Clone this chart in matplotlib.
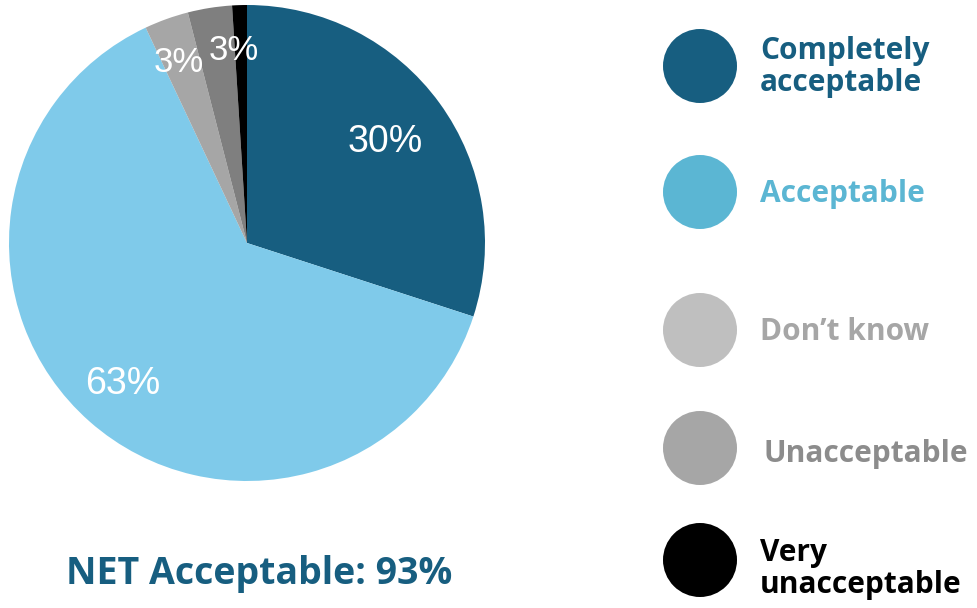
import numpy as np
import matplotlib
matplotlib.use("Agg")
import matplotlib.pyplot as plt
from matplotlib.patches import Circle

## Data
categories = ["Completely\nacceptable", "Acceptable", "Don\u2019t know", "Unacceptable", "Very\nunacceptable"]
shares = [30, 63, 3, 3, 1]
net_acceptable = 93

## Colours
pie_colors = ["#175E80", "#7FCAEA", "#A6A6A6", "#7F7F7F", "#000000"]
legend_colors = ["#175E80", "#5BB6D3", "#BFBFBF", "#A6A6A6", "#000000"]
text_colors = ["#175E80", "#5BB6D3", "#A6A6A6", "#8C8C8C", "#000000"]

W, H = 977, 608
fig = plt.figure(figsize=(W / 100, H / 100), dpi=100)

# pie axes placed as a square around the pie
cx, cy, r = 247, 243, 238
ax = fig.add_axes([(cx - r) / W, (H - cy - r) / H, 2 * r / W, 2 * r / H])
wedges, _ = ax.pie(shares, colors=pie_colors, startangle=90, counterclock=False,
                   wedgeprops=dict(linewidth=0))
ax.set_xlim(-1, 1)
ax.set_ylim(-1, 1)
ax.set_aspect("equal")
ax.axis("off")

# slice labels (skip the tiny one); the two small ones are nudged apart
lab_r = [0.72, 0.79, 0.81, 0.81, 0.8]
lab_shift = [0, 0, 0.8, -5.2, 0]
lab_size = [27, 27, 25, 25, 25]
for w, v, rr, sh, fs in zip(wedges, shares, lab_r, lab_shift, lab_size):
    if v < 2:
        continue
    ang = np.deg2rad((w.theta1 + w.theta2) / 2 + sh)
    ax.text(rr * np.cos(ang), rr * np.sin(ang), f"{v}%", color="white",
            fontsize=fs, family="Liberation Sans", ha="center", va="center")

# overlay in pixel coordinates for legend + net label
ov = fig.add_axes([0, 0, 1, 1])
ov.set_xlim(0, W)
ov.set_ylim(H, 0)
ov.axis("off")

leg_y = [66, 192, 330, 448, 560]
text_y = [67, 194, 332, 454, 569]
for lab, c, tc, y, ty in zip(categories, legend_colors, text_colors, leg_y, text_y):
    ov.add_patch(Circle((700, y), 37, color=c, linewidth=0))
    ov.text(760 if lab != "Unacceptable" else 763, ty, lab, color=tc, fontsize=21.5,
            fontweight="bold", family="Open Sans", ha="left", va="center",
            linespacing=1.1)

ov.text(259, 574, f"NET Acceptable: {net_acceptable}%", color="#175E80", fontsize=27,
        fontweight="bold", family="Open Sans", ha="center", va="center")

fig.savefig("out.png", dpi=100)
